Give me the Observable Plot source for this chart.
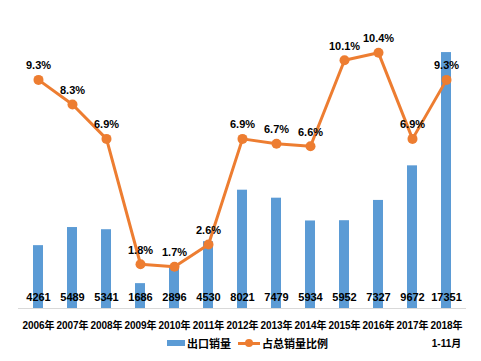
<!DOCTYPE html>
<html><head><meta charset="utf-8">
<script src="https://cdn.jsdelivr.net/npm/d3@7"></script>
<script src="https://cdn.jsdelivr.net/npm/@observablehq/plot@0.6"></script>
<style>
body{margin:0;background:#fff;font-family:"Liberation Sans",Arial,"Noto Sans CJK SC",sans-serif;}
#wrap{position:relative;width:481px;height:361px;}
#legend{position:absolute;top:335px;left:167px;display:flex;align-items:center;font-size:11px;font-weight:bold;color:#000;}
.sw{display:inline-block;}
</style></head>
<body><div id="wrap"><div id="chart"></div><div id="legend"></div></div>
<script>
const years = ["2006年","2007年","2008年","2009年","2010年","2011年","2012年","2013年","2014年","2015年","2016年","2017年","2018年"];
const exportSales = [4261,5489,5341,1686,2896,4530,8021,7479,5934,5952,7327,9672,17351];
const shares = [9.3,8.3,6.9,1.8,1.7,2.6,6.9,6.7,6.6,10.1,10.4,6.9,9.3];
const yearNotes = ["","","","","","","","","","","","","1-11月"];
const seriesNames = ["出口销量","占总销量比例"];
const leftMax = 20000, rightMax = 12;

const blue = "#5b9bd5", orange = "#ed7d31";
const data = years.map((y,i)=>({year:y, value:exportSales[i], share:shares[i], s:shares[i]*leftMax/rightMax, note:yearNotes[i]}));
const font = '"Liberation Sans",Arial,"Noto Sans CJK SC",sans-serif';

const chart = Plot.plot({
  width:481, height:361,
  marginLeft:18, marginRight:15, marginTop:13, marginBottom:53,
  style:{fontFamily:font, background:"#fff"},
  x:{domain:years, paddingInner:0.7, paddingOuter:0.35, axis:null, label:null},
  y:{domain:[0,leftMax], axis:null},
  marks:[
    Plot.barY(data,{x:"year", y:"value", fill:blue}),
    Plot.ruleY([0],{stroke:"#d9d9d9", strokeWidth:1}),
    Plot.text(data,{x:"year", y:0, text:d=>String(d.value), dy:-11, fontSize:11, fontWeight:"bold", fill:"#000"}),
    Plot.line(data,{x:"year", y:"s", stroke:orange, strokeWidth:3}),
    Plot.dot(data,{x:"year", y:"s", r:5, fill:orange, stroke:"none"}),
    Plot.text(data,{x:"year", y:"s", text:d=>d.share.toFixed(1)+"%", dy:-14, fontSize:11, fontWeight:"bold", fill:"#000"}),
    Plot.axisX({tickSize:0, tickPadding:7, fontSize:10, fontWeight:"bold", fill:"#000", lineHeight:1.85, label:null,
      tickFormat:(d)=>{const n=yearNotes[years.indexOf(d)]; return n ? d+"\n"+n : d;}})
  ]
});
document.getElementById("chart").append(chart);

const lg = document.getElementById("legend");
lg.innerHTML = `<span class="sw" style="width:18px;height:6px;background:${blue};margin-right:2px"></span><span>${seriesNames[0]}</span>
<span class="sw" style="position:relative;width:22px;height:3px;background:${orange};margin-left:7px;margin-right:2px"><span style="position:absolute;left:7px;top:-3px;width:8px;height:8px;border-radius:50%;background:${orange}"></span></span><span>${seriesNames[1]}</span>`;
</script>
</body></html>
